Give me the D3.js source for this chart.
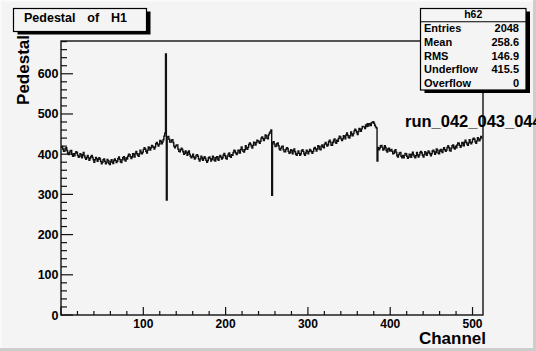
<!DOCTYPE html>
<html>
<head>
<meta charset="utf-8">
<script src="https://cdn.jsdelivr.net/npm/d3@7/dist/d3.min.js"></script>
<style>
  html, body { margin: 0; padding: 0; background: #f4f4f4; }
  svg { display: block; }
  text { font-family: "Liberation Sans", Arial, Helvetica, sans-serif; font-weight: bold; fill: #000; }
</style>
</head>
<body>
<svg id="chart" width="536" height="351"></svg>
<script>
// Pedestal per channel (512 channels)
const pedestal = [
  417,419,413,407,408,414,416,409,402,399,404,408,409,400,395,401,
  396,402,406,404,397,392,395,401,399,391,399,404,396,391,387,392,
  397,391,385,389,394,397,392,386,380,386,392,389,382,387,391,388,
  382,376,380,386,388,382,376,379,387,384,377,374,382,386,380,377,
  385,388,384,379,382,389,393,387,381,379,386,391,394,386,383,391,
  388,395,400,399,394,389,393,401,399,393,402,407,401,397,395,401,
  410,405,401,405,412,416,413,407,403,410,418,416,410,416,422,420,
  417,413,418,426,429,425,420,425,434,432,426,430,436,445,452,649,
  286,443,444,437,430,430,435,436,429,420,416,420,423,423,413,407,
  406,411,415,412,406,400,402,408,405,397,404,408,400,395,391,395,
  400,393,388,391,397,399,395,388,383,388,395,391,385,389,394,390,
  385,380,384,391,393,389,383,387,395,392,385,383,391,394,388,385,
  394,397,393,388,391,398,402,396,390,388,395,400,403,395,392,399,
  397,404,410,408,403,399,403,410,409,403,412,418,411,407,405,411,
  421,416,412,417,424,428,425,420,415,422,430,428,423,429,435,433,
  431,427,432,440,443,439,434,439,448,446,440,438,448,452,456,460,
  298,429,431,425,419,420,426,428,421,413,410,415,419,420,411,406,
  406,412,416,414,407,402,404,411,409,401,409,413,406,400,397,402,
  408,402,397,401,408,411,407,401,397,403,410,407,401,407,412,409,
  406,402,407,414,417,413,408,413,421,419,413,411,420,423,418,416,
  425,429,425,420,423,431,435,430,423,422,429,435,438,430,427,435,
  432,439,445,443,438,434,438,446,444,438,447,453,447,442,440,446,
  455,450,446,451,458,462,459,454,449,456,464,462,457,463,469,468,
  468,464,473,469,476,470,476,475,471,478,479,481,477,472,468,465,
  383,417,411,415,421,422,417,410,413,421,417,409,405,413,415,408,
  410,412,407,401,402,408,411,404,396,393,399,403,404,395,391,397,
  391,397,402,401,395,390,393,400,399,392,400,405,398,394,391,396,
  404,398,393,398,404,407,403,397,393,399,406,403,397,403,408,405,
  401,396,401,408,410,406,400,404,413,410,403,401,409,412,407,404,
  412,416,411,407,410,417,421,416,409,408,415,421,423,416,413,420,
  416,423,428,427,422,417,421,429,427,421,430,435,429,425,422,428,
  436,430,426,430,437,440,437,431,427,433,441,438,433,438,444,441
];

const xTicks = [100, 200, 300, 400, 500];
const yTicks = [0, 100, 200, 300, 400, 500, 600];

const histName = "h62";
const statNames = ["Entries", "Mean", "RMS", "Underflow", "Overflow"];
const statValues = ["2048", "258.6", "146.9", "415.5", "0"];

const titleText = "Pedestal of H1";
const xTitle = "Channel";
const yTitle = "Pedestal";
const runLabel = "run_042_043_044";

const W = 536, H = 351;
const frame = { left: 61, right: 483, top: 41, bottom: 315 };

const svg = d3.select("#chart");

// canvas with bevelled border
svg.append("rect").attr("x", 0).attr("y", 0).attr("width", W).attr("height", H).attr("fill", "#f4f4f4");
svg.append("path").attr("d", `M0,${H} L0,0 L${W},0`).attr("fill", "none").attr("stroke", "#fbfbfb").attr("stroke-width", 3);
svg.append("path").attr("d", `M0,${H - 1.5} L${W - 1.5},${H - 1.5} L${W - 1.5},0`).attr("fill", "none").attr("stroke", "#cdcdcd").attr("stroke-width", 3);

const x = d3.scaleLinear().domain([0, 512]).range([frame.left, frame.right - 0.6]);
const y = d3.scaleLinear().domain([0, 681.5]).range([frame.bottom, frame.top]);

// histogram outline
const pts = pedestal.map((v, i) => [i, v]);
pts.push([pedestal.length, pedestal[pedestal.length - 1]]);
const line = d3.line().x(d => x(d[0])).y(d => y(d[1])).curve(d3.curveStepAfter);
svg.append("path")
  .attr("d", line(pts))
  .attr("fill", "none")
  .attr("stroke", "#111")
  .attr("stroke-width", 1.4)
  .attr("stroke-linejoin", "miter");

// frame
svg.append("rect")
  .attr("x", frame.left).attr("y", frame.top)
  .attr("width", frame.right - frame.left).attr("height", frame.bottom - frame.top)
  .attr("fill", "none").attr("stroke", "#111").attr("stroke-width", 1.4);

// x axis ticks (inward)
const xMinor = d3.range(0, 513, 20);
svg.append("g").selectAll("line").data(xMinor).join("line")
  .attr("x1", d => x(d)).attr("x2", d => x(d))
  .attr("y1", frame.bottom).attr("y2", d => frame.bottom - (d % 100 === 0 ? 8 : 4))
  .attr("stroke", "#111").attr("stroke-width", 1.2);
svg.append("g").selectAll("text").data(xTicks).join("text")
  .attr("x", d => x(d)).attr("y", 327.5)
  .attr("text-anchor", "middle").attr("font-size", 12)
  .text(d => d);

// y axis ticks (inward)
const yMinor = d3.range(0, 681, 20);
svg.append("g").selectAll("line").data(yMinor).join("line")
  .attr("x1", frame.left).attr("x2", d => frame.left + (d % 100 === 0 ? 12 : 6))
  .attr("y1", d => y(d)).attr("y2", d => y(d))
  .attr("stroke", "#111").attr("stroke-width", 1.2);
svg.append("g").selectAll("text").data(yTicks).join("text")
  .attr("x", 58.5).attr("y", d => y(d) + 4.5)
  .attr("text-anchor", "end").attr("font-size", 12.5)
  .text(d => d);

// axis titles
svg.append("text").attr("x", 486).attr("y", 344)
  .attr("text-anchor", "end").attr("font-size", 17).text(xTitle);
svg.append("text")
  .attr("transform", "translate(28.5,35) rotate(-90)")
  .attr("text-anchor", "end").attr("font-size", 17).text(yTitle);

// run label, running past the right edge of the canvas
svg.append("text").attr("x", 405).attr("y", 126.5)
  .attr("font-size", 16.5).text(runLabel);

// title box with shadow
const tb = { x: 13.5, y: 8.5, w: 133, h: 23 };
svg.append("rect").attr("x", tb.x + 4).attr("y", tb.y + 3).attr("width", tb.w).attr("height", tb.h).attr("fill", "#000");
svg.append("rect").attr("x", tb.x).attr("y", tb.y).attr("width", tb.w).attr("height", tb.h)
  .attr("fill", "#f4f4f4").attr("stroke", "#000").attr("stroke-width", 1.2);
svg.append("text").attr("x", 24).attr("y", 21.5)
  .attr("font-size", 12.5).attr("word-spacing", 8.4).text(titleText);

// statistics box with shadow
const sb = { x: 420.5, y: 8.5, w: 105.5, h: 81.5 };
svg.append("rect").attr("x", sb.x + 4).attr("y", sb.y + 3).attr("width", sb.w).attr("height", sb.h).attr("fill", "#000");
svg.append("rect").attr("x", sb.x).attr("y", sb.y).attr("width", sb.w).attr("height", sb.h)
  .attr("fill", "#f4f4f4").attr("stroke", "#000").attr("stroke-width", 1.2);
svg.append("line").attr("x1", sb.x).attr("x2", sb.x + sb.w).attr("y1", 21.7).attr("y2", 21.7)
  .attr("stroke", "#000").attr("stroke-width", 1.1);
svg.append("text").attr("x", sb.x + sb.w / 2).attr("y", 18.3)
  .attr("text-anchor", "middle").attr("font-size", 10.5).text(histName);
const rowY = [31.8, 45.6, 59.6, 73.4, 87.2];
statNames.forEach((n, i) => {
  svg.append("text").attr("x", 424).attr("y", rowY[i]).attr("font-size", 11).text(n);
  svg.append("text").attr("x", 519).attr("y", rowY[i]).attr("text-anchor", "end").attr("font-size", 11).text(statValues[i]);
});
</script>
</body>
</html>
